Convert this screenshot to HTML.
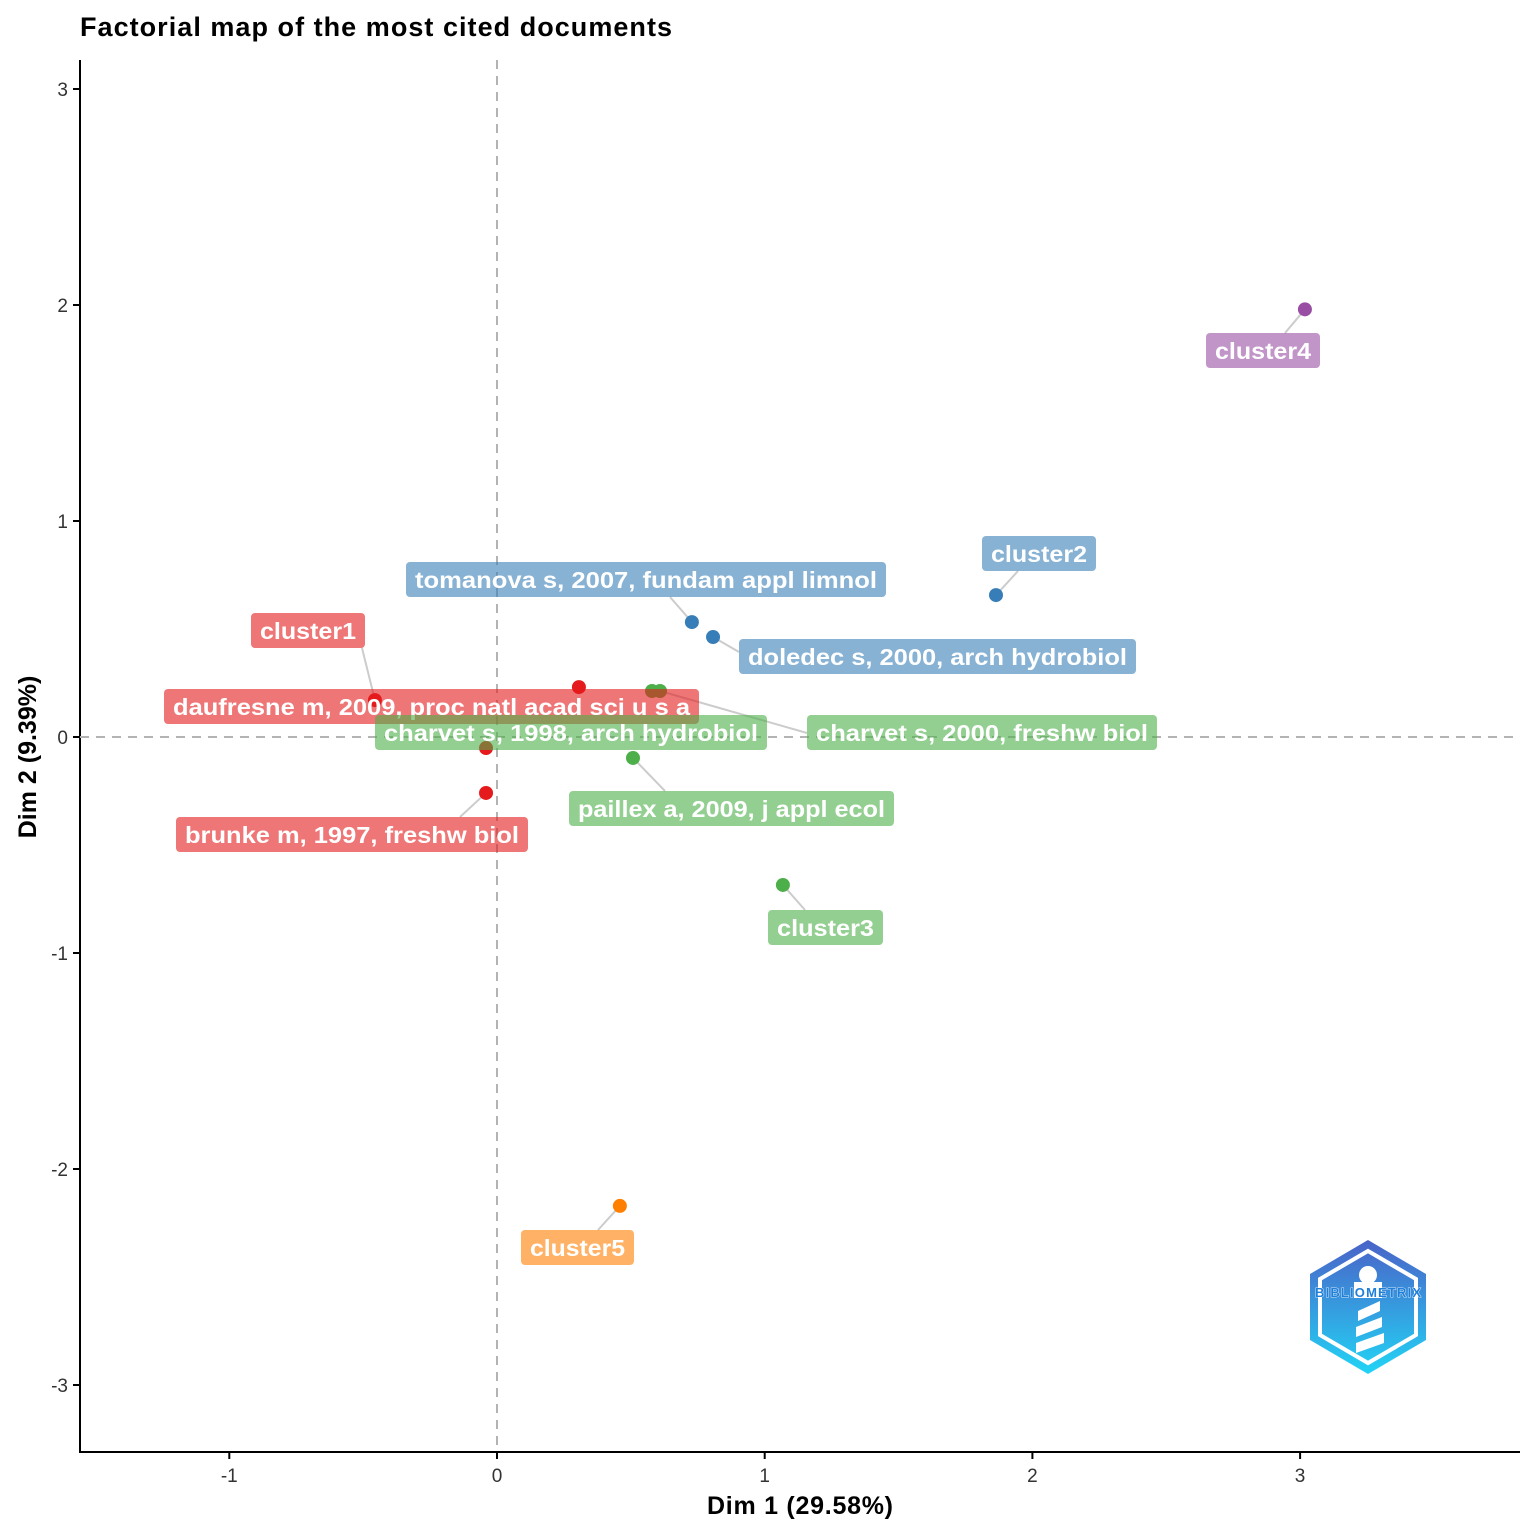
<!DOCTYPE html>
<html><head><meta charset="utf-8"><style>
html,body{margin:0;padding:0;background:#fff;}
svg{display:block;font-family:"Liberation Sans",Arial,sans-serif;}
</style></head><body>
<svg id="chart" width="1536" height="1536" viewBox="0 0 1536 1536">
<defs>
<linearGradient id="lg" x1="0" y1="0" x2="0" y2="1"><stop offset="0" stop-color="#4a62c8"/><stop offset="1" stop-color="#22d4f5"/></linearGradient>
</defs>
<text x="80" y="36" font-size="27" font-weight="bold" fill="#000" textLength="592">Factorial map of the most cited documents</text>
<g id="axes"></g>
<g id="marks"></g>
<g id="labels"></g>
<g transform="translate(1368,1307)">
<polygon points="0,-67 58,-33 58,33 0,67 -58,33 -58,-33" fill="url(#lg)"/>
<polygon points="0,-56 48,-28 48,28 0,56 -48,28 -48,-28" fill="none" stroke="#fff" stroke-width="4"/>
<rect x="-14" y="-25" width="28" height="16" fill="#fff"/>
<circle cx="0" cy="-32" r="9" fill="#fff"/>
<path d="M-12,20 L14,10 L14,20 L-12,30 Z M-12,36 L16,26 L16,36 L-12,46 Z M-10,4 L12,-6 L12,4 L-10,14Z" fill="#fff"/>
<text x="0" y="-10" font-size="13" font-weight="bold" fill="#1f7fd9" stroke="#fff" stroke-width="0.8" paint-order="stroke" text-anchor="middle" textLength="106">BIBLIOMETRIX</text>
</g>
</svg>
<script>
const xTicks=[-1,0,1,2,3];
const yTicks=[-3,-2,-1,0,1,2,3];
const docs=["cluster4","cluster2","tomanova","doledec","daufresne","red-2","charvet-1998","charvet-2000","red-3","brunke","paillex","cluster3","cluster5","cluster1"];
const dim1=[3.018,1.864,0.728,0.807,-0.456,0.306,0.579,0.609,-0.041,-0.041,0.508,1.068,0.459,-0.456];
const dim2=[1.98,0.657,0.532,0.463,0.171,0.231,0.213,0.213,-0.051,-0.259,-0.097,-0.685,-2.171,0.171];
const groups=[4,2,2,2,1,1,3,3,1,1,3,3,5,1];
const palette={1:"#E41A1C",2:"#377EB8",3:"#4DAF4A",4:"#984EA3",5:"#FF7F00"};
const X=v=>497+v*267.7, Y=v=>737-v*216;
const NS="http://www.w3.org/2000/svg";
function mk(t,a,p){const e=document.createElementNS(NS,t);for(const k in a)e.setAttribute(k,a[k]);p.appendChild(e);return e;}
const ax=document.getElementById('axes');
let e=mk('line',{x1:80,y1:60,x2:80,y2:1453,stroke:'#000','stroke-width':2},ax);

e=mk('line',{x1:79,y1:1452,x2:1520,y2:1452,stroke:'#000','stroke-width':2},ax);

e=mk('line',{x1:X(0),y1:60,x2:X(0),y2:1452,stroke:'#b3b3b3','stroke-width':2,'stroke-dasharray':'9,7'},ax);

e=mk('line',{x1:80,y1:Y(0),x2:1520,y2:Y(0),stroke:'#b3b3b3','stroke-width':2,'stroke-dasharray':'9,7'},ax);

xTicks.forEach(v=>{mk('line',{x1:X(v),y1:1452,x2:X(v),y2:1459,stroke:'#000','stroke-width':2},ax);
 const t=mk('text',{x:X(v),y:1482,'font-size':19,fill:'#333','text-anchor':'middle'},ax);t.textContent=v;
 });
yTicks.forEach(v=>{mk('line',{x1:73,y1:Y(v),x2:80,y2:Y(v),stroke:'#000','stroke-width':2},ax);
 const t=mk('text',{x:68,y:Y(v)+7,'font-size':19,fill:'#333','text-anchor':'end'},ax);t.textContent=v;
 });
e=mk('text',{x:707,y:1514,'font-size':25,'font-weight':'bold',textLength:186},ax);e.textContent='Dim 1 (29.58%)';

e=mk('text',{x:36,y:757,'font-size':25,'font-weight':'bold','text-anchor':'middle',transform:'rotate(-90 36 757)'},ax);e.textContent='Dim 2 (9.39%)';

const lab=[
 ["cluster4",1206,333,114,1285,333],
 ["cluster2",982,536,114,1018,571],
 ["tomanova s, 2007, fundam appl limnol",406,562,480,670,597],
 ["doledec s, 2000, arch hydrobiol",739,639,397,739,652],
 ["daufresne m, 2009, proc natl acad sci u s a",164,689,535,null,null],
 [null],
 ["charvet s, 1998, arch hydrobiol",375,715,392,null,null],
 ["charvet s, 2000, freshw biol",807,715,350,807,733],
 [null],
 ["brunke m, 1997, freshw biol",176,817,352,460,817],
 ["paillex a, 2009, j appl ecol",569,791,325,665,791],
 ["cluster3",768,910,115,805,910],
 ["cluster5",521,1230,113,598,1230],
 ["cluster1",251,613,114,362,648]
];
const mg=document.getElementById('marks'), lg=document.getElementById('labels');
docs.forEach((d,i)=>{const L=lab[i];if(L&&L[0]&&L[4]!==null){const s=mk('line',{x1:X(dim1[i]),y1:Y(dim2[i]),x2:L[4],y2:L[5],stroke:'#ccc','stroke-width':2},mg);
 }});
docs.forEach((d,i)=>{if(d==="cluster1")return;const c=mk('circle',{cx:X(dim1[i]),cy:Y(dim2[i]),r:7,fill:palette[groups[i]]},mg);
 });
docs.forEach((d,i)=>{const L=lab[i];if(!L||!L[0])return;const g=mk('g',{},lg);
 
 mk('rect',{x:L[1],y:L[2],width:L[3],height:35,rx:4,fill:palette[groups[i]],'fill-opacity':0.6},g);
 const t=mk('text',{x:L[1]+9,y:L[2]+26,'font-size':23,'font-weight':'bold',fill:'#fff',textLength:L[3]-18,lengthAdjust:'spacingAndGlyphs'},g);t.textContent=L[0];});
</script>
</body></html>
